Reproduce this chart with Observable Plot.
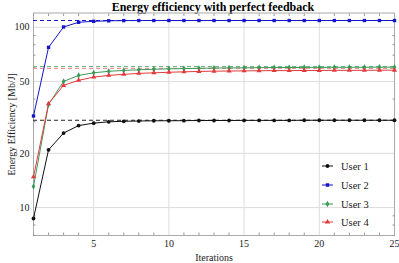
<!DOCTYPE html>
<html><head><meta charset="utf-8">
<script src="https://cdn.jsdelivr.net/npm/d3@7"></script>
<script src="https://cdn.jsdelivr.net/npm/@observablehq/plot@0.6"></script>
<style>
body{margin:0;background:#fff;}
#wrap{position:relative;width:399px;height:263px;}
#title{height:12px;line-height:12px;font:bold 12px "Liberation Serif",serif;text-align:center;padding-left:27px;white-space:nowrap;}
#legend{position:absolute;left:0;top:0;}
</style></head><body>
<div id="wrap"><div id="title">Energy efficiency with perfect feedback</div><div id="chart"></div><svg id="legend" width="399" height="263"></svg></div>
<script>
const iterations = [1,2,3,4,5,6,7,8,9,10,11,12,13,14,15,16,17,18,19,20,21,22,23,24,25];
const seriesNames = ["User 1","User 2","User 3","User 4"];
const user1 = [8.7,20.9,25.9,28.5,29.4,29.9,30.1,30.2,30.3,30.3,30.35,30.4,30.4,30.4,30.45,30.45,30.45,30.45,30.5,30.5,30.5,30.5,30.5,30.5,30.5];
const user2 = [32.2,77.4,100.4,106.6,107.9,108.6,108.9,109,109,109,109,109,109,109,109,109,109,109,109,109,109,109,109,109,109];
const user3 = [13.1,37.3,50.1,54.1,55.9,57.0,57.6,58.1,58.5,58.8,59.0,59.2,59.4,59.5,59.6,59.7,59.8,59.8,59.9,59.9,60.0,60.0,60.0,60.1,60.1];
const user4 = [14.8,37.7,47.6,50.8,52.9,54.1,54.8,55.5,55.9,56.3,56.6,56.9,57.1,57.2,57.3,57.4,57.5,57.5,57.6,57.6,57.7,57.7,57.7,57.8,57.8];
const limits = [30.5,109,60.6,59.2];
const xTicks = [5,10,15,20,25];
const yTicks = [10,20,50,100];
const yMinorTicks = [7,8,9,30,40,60,70,80,90];
const colors = ["#111111","#1414c8","#3c9a58","#e23a3a"];
const symbols = ["circle","square","diamond","triangle"];
const dashColors = ["#222222","#1414c8","#6cb884","#ee7a7a"];

const allSeries = [user1,user2,user3,user4];
const rows = [];
allSeries.forEach((vals,i)=>vals.forEach((v,j)=>rows.push({x:iterations[j],y:v,s:seriesNames[i]})));
const limitRows = limits.map((v,i)=>({y:v,s:seriesNames[i]}));
const xMinor = iterations.filter(v=>!xTicks.includes(v));
const blank = ()=>"";
const serif = '"Liberation Serif", serif';

const chart = Plot.plot({
  width:399, height:251,
  marginLeft:33, marginRight:5, marginTop:0.5, marginBottom:28,
  style:{fontFamily:serif, fontSize:"10px", background:"transparent", color:"#222"},
  x:{domain:[1,25]},
  y:{type:"log", domain:[7,120]},
  color:{domain:seriesNames, range:colors},
  symbol:{domain:seriesNames, range:symbols},
  marks:[
    Plot.gridX(xTicks.slice(0,4),{stroke:"#ddd", strokeOpacity:1}),
    Plot.gridY(yTicks,{stroke:"#ddd", strokeOpacity:1}),
    Plot.frame({stroke:"#aaa"}),
    Plot.axisX({ticks:xTicks, tickSize:0, tickPadding:4, label:"Iterations", labelAnchor:"center", labelOffset:25, labelArrow:"none"}),
    Plot.axisX({ticks:xMinor, tickSize:-2.5, tickFormat:blank, label:null, stroke:"#999"}),
    Plot.axisX({anchor:"top", ticks:xMinor, tickSize:-2.5, tickFormat:blank, label:null, stroke:"#999"}),
    Plot.axisY({ticks:yTicks, tickSize:0, tickPadding:4, tickFormat:d=>String(d), label:"Energy Efficiency [Mb/J]", labelAnchor:"center", labelOffset:26, labelArrow:"none"}),
    Plot.axisY({ticks:yMinorTicks, tickSize:-2.5, tickFormat:blank, label:null, stroke:"#999"}),
    Plot.axisY({anchor:"right", ticks:yMinorTicks, tickSize:-2.5, tickFormat:blank, label:null, stroke:"#999"}),
    Plot.ruleY(limitRows,{y:"y", stroke:(d)=>dashColors[seriesNames.indexOf(d.s)], strokeDasharray:"4,3", strokeWidth:1}),
    Plot.line(rows,{x:"x", y:"y", z:"s", stroke:"s", strokeWidth:1}),
    Plot.dot(rows,{x:"x", y:"y", fill:"s", symbol:"s", r:1.9, stroke:"none"})
  ]
});
document.getElementById("chart").appendChild(chart);
chart.style.fontFamily = serif;
d3.select(chart).selectAll("text").style("font-family", serif).style("font-size","10px");

const legSymbols = [d3.symbolCircle,d3.symbolSquare,d3.symbolDiamond,d3.symbolTriangle];
const leg = d3.select("#legend");
seriesNames.forEach((name,i)=>{
  const yy = [166,185,204,222][i];
  const g = leg.append("g");
  g.append("line").attr("x1",322).attr("x2",333).attr("y1",yy).attr("y2",yy).attr("stroke",colors[i]).attr("stroke-width",1);
  g.append("path").attr("transform",`translate(327.5,${yy})`).attr("d",d3.symbol(legSymbols[i], 12)()).attr("fill",colors[i]);
  g.append("text").attr("x",341).attr("y",yy).attr("dy","0.35em").style("font-family",serif).style("font-size","10.5px").attr("fill","#222").text(name);
});
</script></body></html>
